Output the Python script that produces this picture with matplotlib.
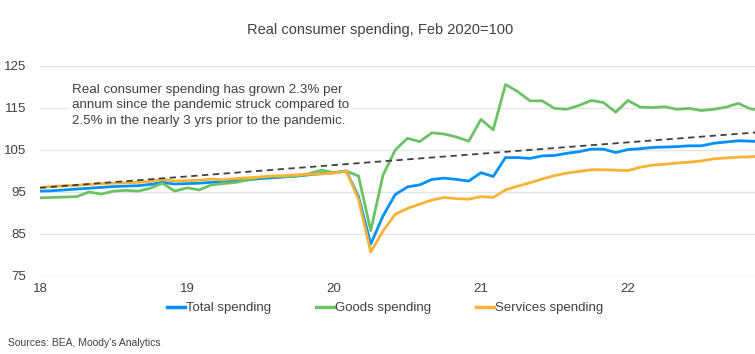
import numpy as np
import matplotlib
matplotlib.use("Agg")
import matplotlib.pyplot as plt

plt.rcParams["font.family"] = ["Liberation Sans", "DejaVu Sans"]

# monthly index, Jan 2018 .. Dec 2022 (Feb 2020 = 100)
total = [95.2, 95.3, 95.5, 95.7, 95.9, 96.1, 96.3, 96.4, 96.5, 96.8, 97.3, 96.9,
         97.0, 97.1, 97.3, 97.6, 97.7, 97.9, 98.2, 98.4, 98.6, 98.8, 99.1, 99.4,
         99.6, 100.0, 93.9, 82.6, 89.3, 94.4, 96.2, 96.7, 98.0, 98.3, 98.0, 97.6,
         99.6, 98.7, 103.2, 103.2, 103.0, 103.6, 103.7, 104.2, 104.6, 105.2, 105.2, 104.4,
         105.1, 105.3, 105.6, 105.7, 105.8, 106.0, 106.0, 106.6, 106.9, 107.2, 107.1, 107.0]
goods = [93.6, 93.7, 93.8, 93.9, 95.0, 94.5, 95.2, 95.4, 95.2, 95.9, 97.1, 95.2,
         96.0, 95.5, 96.7, 97.0, 97.3, 97.9, 98.5, 98.7, 98.7, 98.8, 99.4, 100.2,
         99.6, 100.0, 98.8, 85.8, 99.0, 105.0, 107.8, 107.0, 109.1, 108.8, 108.1, 107.1,
         112.3, 109.8, 120.6, 118.9, 116.7, 116.7, 114.9, 114.7, 115.6, 116.8, 116.3, 114.0,
         116.8, 115.2, 115.1, 115.3, 114.7, 114.9, 114.4, 114.7, 115.2, 116.1, 114.8, 114.4]
services = [96.1, 96.3, 96.5, 96.6, 96.8, 97.0, 97.1, 97.2, 97.3, 97.5, 98.0, 97.6,
            97.7, 97.8, 98.1, 97.9, 98.2, 98.4, 98.6, 98.8, 98.9, 99.1, 99.2, 99.3,
            99.5, 100.0, 93.3, 80.7, 85.7, 89.7, 91.1, 92.1, 93.1, 93.7, 93.4, 93.3,
            93.9, 93.7, 95.5, 96.4, 97.2, 98.1, 98.9, 99.5, 99.9, 100.3, 100.3, 100.2,
            100.1, 100.9, 101.4, 101.6, 101.9, 102.1, 102.4, 102.9, 103.1, 103.3, 103.4, 103.5]

# pre-pandemic trend line, start and end value
trend_months = [0, 59]
trend_vals = [96.0, 109.3]

year_labels = ["18", "19", "20", "21", "22"]
yticks = [75, 85, 95, 105, 115, 125]

months = np.arange(len(total))
txt = "#404040"

fig = plt.figure(figsize=(7.55, 3.54), dpi=100)
ax = fig.add_axes([40 / 755, 1 - 276 / 354, 1 - 40 / 755, (276 - 66) / 354])

ax.plot(months, total, color="#0091FF", lw=2.0, label="Total spending", zorder=3)
ax.plot(months, goods, color="#6BC263", lw=2.0, label="Goods spending", zorder=3)
ax.plot(months, services, color="#F9B233", lw=2.0, label="Services spending", zorder=3)
ax.plot(trend_months, trend_vals, color="#404040", lw=1.3, ls=(0, (3.5, 2.5)), zorder=4)

ax.set_xlim(0, 58.37)
ax.set_ylim(75, 125)
ax.set_yticks(yticks)
ax.set_xticks(np.arange(0, 60, 12))
ax.set_xticklabels(year_labels)
ax.grid(axis="y", color="#E4E4E4", lw=1.0)
ax.set_axisbelow(True)
for s in ax.spines.values():
    s.set_visible(False)
ax.tick_params(length=0, labelsize=9.5, labelcolor=txt)
ax.tick_params(axis="y", pad=10)
ax.tick_params(axis="x", pad=5)

ax.text(2.6, 120.8, "Real consumer spending has grown 2.3% per\n"
        "annum since the pandemic struck compared to\n"
        "2.5% in the nearly 3 yrs prior to the pandemic.",
        fontsize=9.6, color=txt, va="top", ha="left", linespacing=1.42,
        bbox=dict(facecolor="white", edgecolor="none", pad=2), zorder=5)

fig.text(0.503, 1 - 30 / 354, "Real consumer spending, Feb 2020=100",
         ha="center", va="center", fontsize=10.5, color=txt)

leg = fig.legend(loc="center", bbox_to_anchor=(0.51, 1 - 308 / 354), ncol=3,
                 frameon=False, fontsize=9.5, handlelength=1.4, handletextpad=0.05,
                 columnspacing=3.4)
for t in leg.get_texts():
    t.set_color(txt)
for h in leg.get_lines():
    h.set_linewidth(2.5)

fig.text(8 / 755, 1 - 343 / 354, "Sources: BEA, Moody's Analytics",
         ha="left", va="center", fontsize=7.5, color=txt)

fig.savefig("out.png", dpi=100)
